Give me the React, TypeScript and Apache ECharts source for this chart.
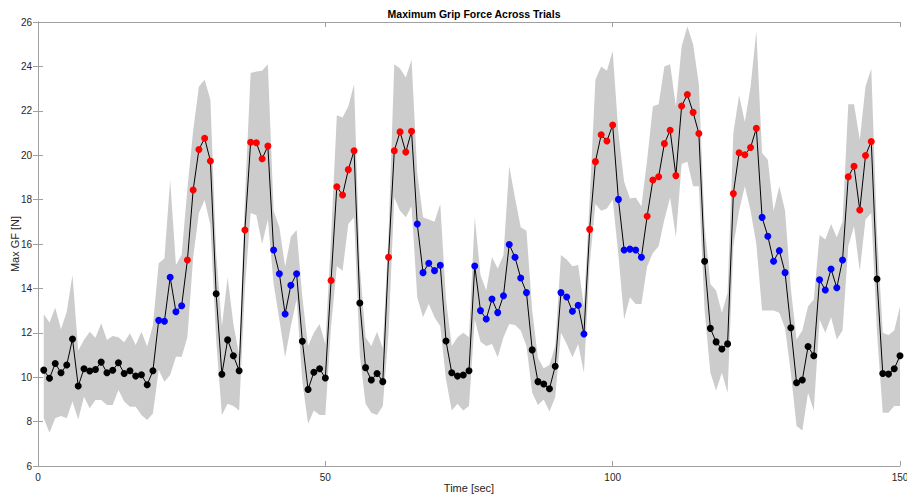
import React, { useEffect, useRef } from "react";
import * as echarts from "echarts";

// Mean maximum grip force per trial (N), one trial per second
const meanGF = [
  10.32, 9.95, 10.62, 10.2, 10.55, 11.72, 9.6, 10.38, 10.28, 10.35,
  10.68, 10.2, 10.31, 10.65, 10.17, 10.29, 10.05, 10.11, 9.66, 10.29,
  12.56, 12.52, 14.5, 12.95, 13.22, 15.28, 18.43, 20.26, 20.76, 19.74,
  13.76, 10.13, 11.68, 10.97, 10.29, 16.63, 20.58, 20.56, 19.84, 20.41,
  15.73, 14.66, 12.85, 14.14, 14.66, 11.62, 9.45, 10.22, 10.38, 9.96,
  14.36, 18.58, 18.21, 19.35, 20.2, 13.34, 10.43, 9.87, 10.17, 9.8,
  15.4, 20.2, 21.05, 20.14, 21.08, 16.9, 14.71, 15.13, 14.8, 15.04,
  11.63, 10.2, 10.05, 10.1, 10.29, 15.01, 13.0, 12.62, 13.52, 12.91,
  13.67, 15.98, 15.4, 14.47, 13.81, 11.23, 9.8, 9.69, 9.48, 10.49,
  13.81, 13.61, 12.97, 13.24, 11.95, 16.66, 19.71, 20.92, 20.64, 21.36,
  18.01, 15.73, 15.77, 15.73, 15.4, 17.25, 18.88, 19.03, 20.52, 21.12,
  19.08, 22.22, 22.73, 21.93, 20.98, 15.22, 12.2, 11.59, 11.27, 11.5,
  18.27, 20.11, 20.02, 20.35, 21.21, 17.2, 16.35, 15.22, 15.7, 14.71,
  12.23, 9.75, 9.87, 11.38, 10.97, 14.39, 13.93, 14.87, 14.03, 15.28,
  19.03, 19.5, 17.53, 19.99, 20.62, 14.42, 10.17, 10.14, 10.38, 10.97,
];

// Upper edge of the variability band (N)
const upperGF = [
  12.84, 12.46, 13.13, 12.16, 12.95, 14.6, 11.2, 11.68, 12.05, 11.78,
  12.43, 11.68, 11.86, 11.8, 11.57, 11.98, 11.45, 12.05, 11.38, 12.35,
  15.13, 15.35, 18.88, 15.05, 15.5, 18.5, 21.1, 23.1, 23.4, 22.5,
  15.6, 12.3, 14.5, 12.4, 11.0, 18.0, 23.7, 23.77, 23.8, 24.1,
  17.5, 16.75, 14.98, 16.33, 16.63, 13.6, 11.4, 12.0, 12.4, 11.5,
  16.3, 21.8, 21.7, 22.2, 23.2, 15.0, 11.8, 11.4, 12.05, 11.3,
  16.5, 24.1, 23.9, 23.5, 24.3, 19.2, 17.2, 17.1, 17.0, 17.8,
  13.5, 11.4, 11.8, 12.0, 11.8, 17.2, 14.6, 13.9, 15.4, 14.9,
  15.5, 19.5, 18.1, 16.75, 16.6, 13.0, 10.85, 10.4, 10.55, 11.4,
  15.5, 15.3, 15.0, 15.05, 13.2, 18.0, 23.4, 24.0, 23.8, 24.7,
  21.0, 18.8, 18.05, 18.1, 17.7, 19.8, 22.2, 22.3, 24.0, 24.1,
  22.2, 24.9, 25.8, 25.0, 23.2, 16.8, 14.2, 13.9, 12.9, 13.8,
  21.0, 22.7, 21.5, 23.1, 25.6, 20.1, 19.8, 17.5, 18.6, 17.5,
  14.0, 11.7, 12.1, 13.2, 13.5, 16.4, 16.2, 16.9, 16.3, 17.0,
  22.3, 22.3, 20.7, 23.1, 23.9, 16.5, 12.0, 11.9, 12.1, 13.2,
];

// Lower edge of the variability band (N)
const lowerGF = [
  8.15, 7.5, 8.15, 8.25, 8.15, 8.9, 8.1, 9.12, 8.6, 8.97,
  8.97, 8.75, 8.75, 9.42, 8.9, 8.67, 8.67, 8.3, 8.07, 8.37,
  10.32, 9.8, 10.1, 10.92, 10.92, 11.8, 15.4, 17.4, 17.98, 16.85,
  11.7, 8.3, 8.8, 8.7, 8.5, 14.0, 17.4, 17.3, 16.0, 17.1,
  14.2, 12.6, 10.9, 12.3, 13.5, 9.8, 7.9, 8.5, 8.3, 8.3,
  12.3, 15.0, 14.8, 16.9, 17.2, 11.0, 8.8, 8.4, 8.3, 8.7,
  12.0, 18.1, 17.5, 17.2, 17.7, 13.6, 12.7, 13.3, 12.7, 12.3,
  9.9, 8.5, 8.8, 8.5, 8.7, 12.6, 11.6, 11.4, 11.5, 10.9,
  11.8, 12.4, 12.35, 12.1, 11.4, 9.3, 8.75, 9.0, 8.45, 9.1,
  12.0, 11.5, 10.9, 11.5, 10.2, 15.1, 17.8, 17.5, 17.6, 18.0,
  15.5, 12.6, 13.6, 13.3, 13.3, 15.0, 15.6, 15.9, 17.1, 18.1,
  16.3, 19.6, 19.7, 18.6, 18.6, 13.0, 10.2, 9.4, 10.2, 9.3,
  15.9, 17.5, 18.6, 17.5, 16.0, 13.0, 13.0, 13.0, 12.9, 12.2,
  10.2, 7.8, 7.6, 9.3, 8.5, 12.6, 12.0, 12.7, 11.7, 12.1,
  15.9, 16.8, 14.8, 17.1, 17.4, 12.0, 8.4, 8.4, 8.7, 8.7,
];

// Condition of each block of five trials: B = baseline, M = medium, H = high
const blockCondition = [
  "B", "B", "B", "B", "M", "H", "B", "H", "M", "B",
  "H", "B", "H", "M", "B", "M", "M", "B", "M", "H",
  "M", "H", "H", "B", "H", "M", "B", "M", "H", "B",
];
const trialsPerBlock = 5;

const conditionColor: Record<string, string> = {
  B: "#000000",
  M: "#0000ff",
  H: "#ff0000",
};

const xTicks = { min: 0, max: 150, interval: 50 };
const yTicks = { min: 6, max: 26, interval: 2 };

const FONT = "'Liberation Sans', Arial, Helvetica, sans-serif";
const AXIS_GRAY = "#a0a0a0";
const LABEL_COLOR = "#262626";

export default function App() {
  const ref = useRef<HTMLDivElement>(null);

  useEffect(() => {
    if (!ref.current) return;
    const chart = echarts.init(ref.current, undefined, { renderer: "svg" });

    const times = meanGF.map((_, i) => i + 1);
    const bandData = times.map((t, i) => [t, lowerGF[i], upperGF[i]]);
    const meanData = times.map((t, i) => ({
      value: [t, meanGF[i]],
      itemStyle: {
        color: conditionColor[blockCondition[Math.floor(i / trialsPerBlock)]],
      },
    }));

    const axisLine = { show: true, lineStyle: { color: AXIS_GRAY, width: 1 } };
    const axisTick = {
      show: true,
      inside: true,
      length: 5,
      lineStyle: { color: AXIS_GRAY, width: 1 },
    };
    const tickLabel = {
      color: LABEL_COLOR,
      fontSize: 10,
      fontFamily: FONT,
      margin: 6,
    };

    // Shaded band: one polygon running along the upper edge and back along the lower edge
    const renderBand = (params: any, api: any) => {
      if (params.dataIndex !== 0) return null;
      const top = bandData.map((d) => api.coord([d[0], d[2]]));
      const bottom = bandData
        .slice()
        .reverse()
        .map((d) => api.coord([d[0], d[1]]));
      return {
        type: "polygon",
        shape: { points: top.concat(bottom) },
        style: { fill: "#cccccc", stroke: "none" },
        silent: true,
      };
    };

    chart.setOption({
      animation: false,
      backgroundColor: "#ffffff",
      textStyle: { fontFamily: FONT },
      title: {
        text: "Maximum Grip Force Across Trials",
        left: 469,
        textAlign: "center",
        top: 3,
        textStyle: {
          fontFamily: FONT,
          fontSize: 10.5,
          fontWeight: "bold",
          color: "#000000",
        },
      },
      // Axis titles
      graphic: [
        {
          type: "text",
          x: 469,
          y: 488,
          silent: true,
          style: {
            text: "Time [sec]",
            fill: LABEL_COLOR,
            font: `11px ${FONT}`,
            align: "center",
            verticalAlign: "middle",
          },
        },
        {
          type: "text",
          x: 15,
          y: 244,
          rotation: Math.PI / 2,
          silent: true,
          style: {
            text: "Max GF [N]",
            fill: LABEL_COLOR,
            font: `11px ${FONT}`,
            align: "center",
            verticalAlign: "middle",
          },
        },
      ],
      grid: {
        left: 38,
        right: 7,
        top: 22,
        bottom: 30,
        containLabel: false,
        outerBoundsMode: "none",
      },
      xAxis: [
        {
          type: "value",
          ...xTicks,
          position: "bottom",
          axisLine,
          axisTick,
          splitLine: { show: false },
          axisLabel: tickLabel,
        },
        {
          type: "value",
          ...xTicks,
          position: "top",
          axisLine,
          axisTick,
          splitLine: { show: false },
          axisLabel: { show: false },
        },
      ],
      yAxis: [
        {
          type: "value",
          ...yTicks,
          position: "left",
          axisLine,
          axisTick,
          splitLine: { show: false },
          axisLabel: tickLabel,
        },
        {
          type: "value",
          ...yTicks,
          position: "right",
          axisLine,
          axisTick,
          splitLine: { show: false },
          axisLabel: { show: false },
        },
      ],
      series: [
        {
          name: "band",
          type: "custom",
          data: bandData,
          renderItem: renderBand,
          encode: { x: 0, y: [1, 2] },
          silent: true,
          z: 1,
        },
        {
          name: "mean",
          type: "line",
          data: meanData,
          symbol: "circle",
          symbolSize: 7,
          showAllSymbol: true,
          lineStyle: { color: "#000000", width: 1 },
          z: 3,
        },
      ],
    });

    return () => chart.dispose();
  }, []);

  return (
    <div
      ref={ref}
      style={{ position: "fixed", left: 0, top: 0, width: 907, height: 496 }}
    />
  );
}
